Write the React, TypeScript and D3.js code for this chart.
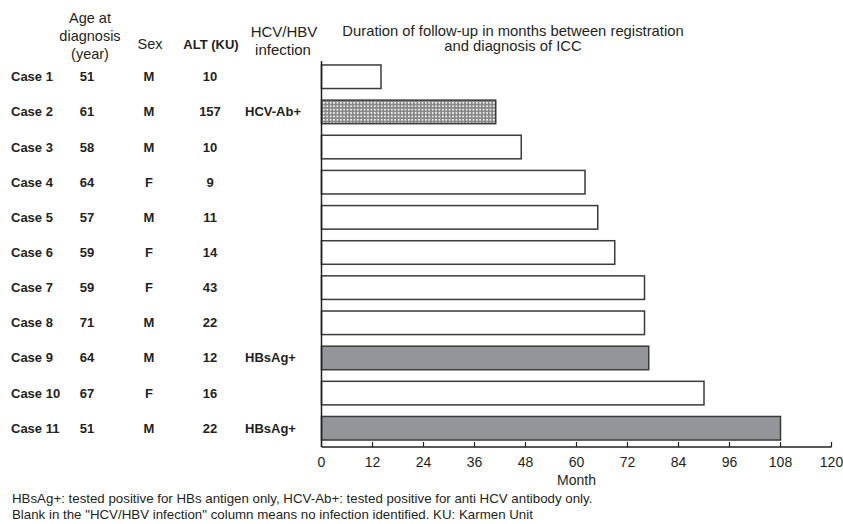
import React from "react";
import * as d3 from "d3";

const cases = ["Case 1","Case 2","Case 3","Case 4","Case 5","Case 6","Case 7","Case 8","Case 9","Case 10","Case 11"];
const ages = ["51","61","58","64","57","59","59","71","64","67","51"];
const sexes = ["M","M","M","F","M","F","F","M","M","F","M"];
const alts = ["10","157","10","9","11","14","43","22","12","16","22"];
const infections = ["","HCV-Ab+","","","","","","","HBsAg+","","HBsAg+"];
const months = [14, 41, 47, 62, 65, 69, 76, 76, 77, 90, 108];
const xTicks = [0, 12, 24, 36, 48, 60, 72, 84, 96, 108, 120];

const W = 843, H = 524;
const INK = "#231f20";
const FONT = "'Liberation Sans', Arial, sans-serif";

export default function App() {
  const x = d3.scaleLinear().domain([0, 120]).range([321.5, 831.5]);
  const y = d3.scaleBand<string>().domain(cases).range([59, 446]).paddingInner(0.33).paddingOuter(0.17);
  const axisY = 447;

  const fillFor = (inf: string) =>
    inf === "HBsAg+" ? "#939598" : inf === "HCV-Ab+" ? "url(#dots)" : "#ffffff";

  return (
    <svg width={W} height={H} style={{ position: "absolute", left: 0, top: 0, background: "#fff" }}
      fontFamily={FONT} fill={INK}>
      <defs>
        <pattern id="dots" width={3.4} height={3.4} patternUnits="userSpaceOnUse">
          <rect width={3.4} height={3.4} fill="#888888" />
          <rect x={0} y={0} width={1.6} height={1.6} fill="#ffffff" />
        </pattern>
      </defs>
      <rect width={W} height={H} fill="#fff" />

      {/* headers */}
      <g fontSize={14.5} textAnchor="middle">
        <text x={90} y={23}>Age at</text>
        <text x={90} y={41}>diagnosis</text>
        <text x={90} y={59}>(year)</text>
        <text x={150} y={49}>Sex</text>
        <text x={211} y={49} fontWeight="bold" fontSize={13}>ALT (KU)</text>
        <text x={284} y={37} fontSize={15}>HCV/HBV</text>
        <text x={283} y={55} fontSize={15}>infection</text>
        <text x={513} y={36} fontSize={14.8}>Duration of follow-up in months between registration</text>
        <text x={513} y={51} fontSize={14.8}>and diagnosis of ICC</text>
      </g>

      {/* table rows */}
      <g fontSize={13} fontWeight="bold">
        {cases.map((c, i) => {
          const cy = (y(c) as number) + y.bandwidth() / 2 + 4.5;
          return (
            <g key={c}>
              <text x={11} y={cy}>{c}</text>
              <text x={87} y={cy} textAnchor="middle">{ages[i]}</text>
              <text x={149} y={cy} textAnchor="middle">{sexes[i]}</text>
              <text x={210} y={cy} textAnchor="middle">{alts[i]}</text>
              {infections[i] && <text x={245} y={cy}>{infections[i]}</text>}
            </g>
          );
        })}
      </g>

      {/* bars */}
      {cases.map((c, i) => (
        <rect key={c} x={x(0)} y={y(c)} width={x(months[i]) - x(0)} height={y.bandwidth()}
          fill={fillFor(infections[i])} stroke="#3a3a3a" strokeWidth={1.5} />
      ))}

      {/* axes */}
      <line x1={x(0)} x2={x(0)} y1={61} y2={axisY} stroke={INK} strokeWidth={1.5} />
      <line x1={x(0)} x2={x(120)} y1={axisY} y2={axisY} stroke={INK} strokeWidth={1.5} />
      {xTicks.map((t) => (
        <g key={t}>
          <line x1={x(t)} x2={x(t)} y1={axisY} y2={axisY - 5} stroke={INK} strokeWidth={1.2} />
          <text x={x(t)} y={467} fontSize={14} textAnchor="middle">{t}</text>
        </g>
      ))}
      <text x={(x(0) + x(120)) / 2} y={485} fontSize={14} textAnchor="middle">Month</text>

      {/* footnote */}
      <g fontSize={13.3}>
        <text x={12} y={503}>HBsAg+: tested positive for HBs antigen only, HCV-Ab+: tested positive for anti HCV antibody only.</text>
        <text x={12} y={519}>Blank in the "HCV/HBV infection" column means no infection  identified. KU: Karmen Unit</text>
      </g>
    </svg>
  );
}
